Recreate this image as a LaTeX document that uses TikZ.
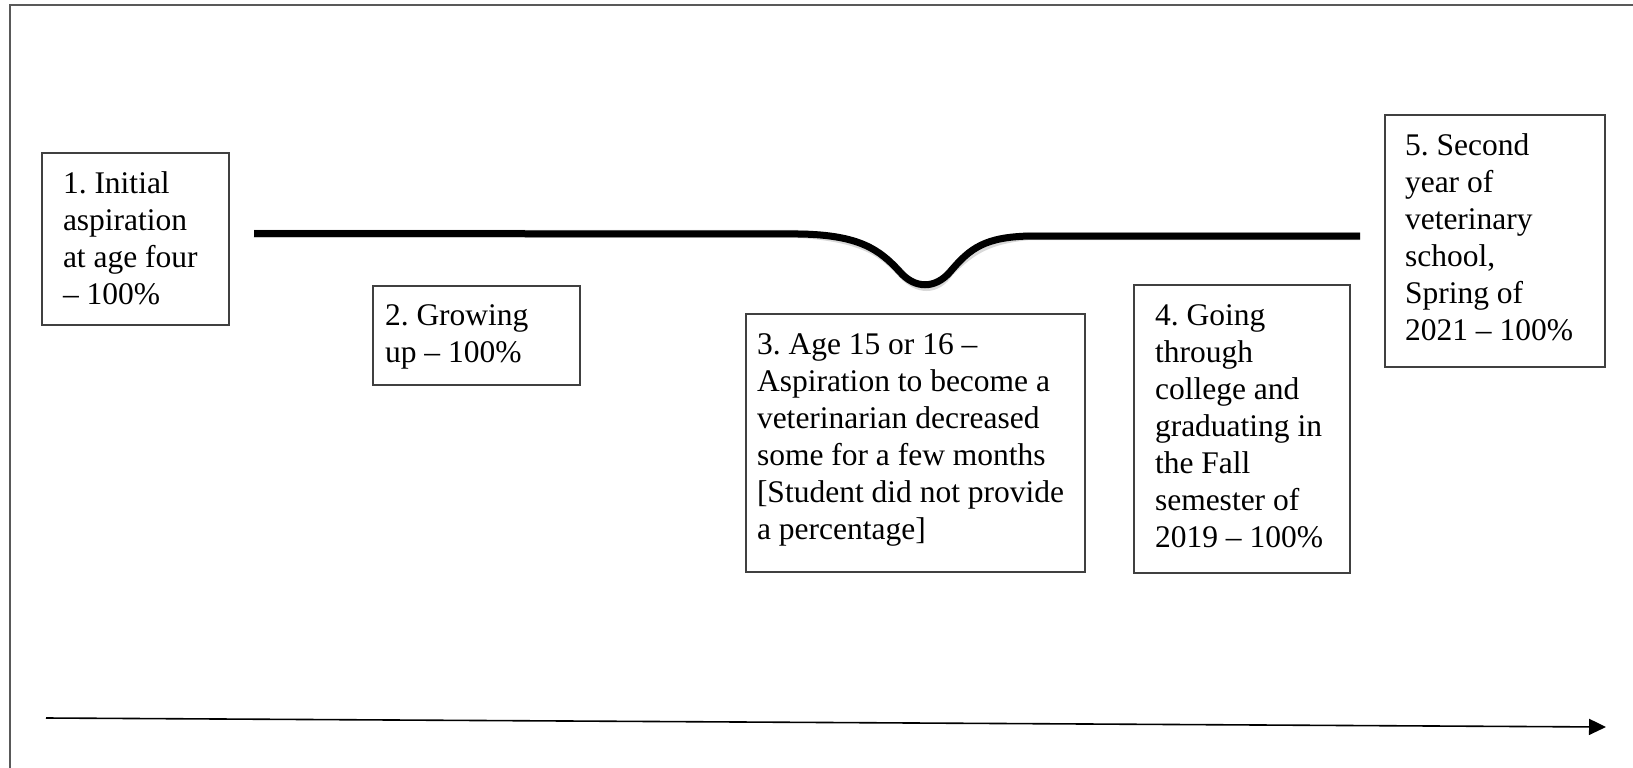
\documentclass[tikz,border=0pt]{standalone}
\usepackage{fontspec}
\setmainfont{Liberation Serif}
\usetikzlibrary{arrows.meta}
\frenchspacing
\tikzset{
  boxst/.style={draw=black!75, line width=1.3pt, inner sep=0pt, outer sep=0pt, anchor=north west},
  txt/.style={anchor=base west, inner sep=0pt, outer sep=0pt, font=\fontsize{31.5}{37}\selectfont},
  frame/.style={draw=black!65, line width=2pt},
  trend/.style={line width=7pt, line cap=butt},
  trendshadow/.style={line width=8pt, draw=black!15, line cap=butt},
  timeaxis/.style={line width=1.6pt, -{Triangle[length=17pt,width=16pt]}}
}
\begin{document}
\begin{tikzpicture}[x=1pt,y=-1pt]
\useasboundingbox (0,0) rectangle (1633,768);
% outer frame (left and top edges)
\coordinate (fbl) at (10,768);
\coordinate (ftl) at (10,5);
\coordinate (ftr) at (1633,5);
\draw[frame] (fbl) -- (ftl) -- (ftr);

% boxes
\node[boxst, minimum width=187, minimum height=172] (b1) at (42,153) {};
\node[boxst, minimum width=207, minimum height=99] (b2) at (373,286) {};
\node[boxst, minimum width=339, minimum height=258] (b3) at (746,314) {};
\node[boxst, minimum width=216, minimum height=288] (b4) at (1134,285) {};
\node[boxst, minimum width=220, minimum height=252] (b5) at (1385,115) {};

% texts
\node[txt] (t1) at (63,193) {\parbox[t]{180pt}{\raggedright 1. Initial\\aspiration\\at age four\\– 100\%}};
\node[txt] (t2) at (385,325) {\parbox[t]{200pt}{\raggedright 2. Growing\\up – 100\%}};
\node[txt] (t3) at (757,354) {\parbox[t]{330pt}{\raggedright 3. Age 15 or 16 –\\Aspiration to become a\\veterinarian decreased\\some for a few months\\{[}Student did not provide\\a percentage{]}}};
\node[txt] (t4) at (1155,325) {\parbox[t]{200pt}{\raggedright 4. Going\\through\\college and\\graduating in\\the Fall\\semester of\\2019 – 100\%}};
\node[txt] (t5) at (1405,155) {\parbox[t]{200pt}{\raggedright 5. Second\\year of\\veterinary\\school,\\Spring of\\2021 – 100\%}};

% trend line
\coordinate (ls) at (254,233.5);
\coordinate (la) at (800,234);
\coordinate (lb) at (900,272);
\coordinate (lc) at (950,272);
\coordinate (ld) at (1030,236);
\coordinate (le) at (1360,236);
\draw[trendshadow, shift={(2pt,-3pt)}] (ls) -- (la) .. controls (860,235) and (880,250) .. (lb) .. controls (915,289) and (935,289) .. (lc) .. controls (970,248) and (985,237) .. (ld) -- (le);
\draw[trend] (ls) -- (la) .. controls (860,235) and (880,250) .. (lb) .. controls (915,289) and (935,289) .. (lc) .. controls (970,248) and (985,237) .. (ld) -- (le);

% time axis
\coordinate (as) at (46,718);
\coordinate (ae) at (1606,727);
\draw[timeaxis] (as) -- (ae);
\end{tikzpicture}
\end{document}
